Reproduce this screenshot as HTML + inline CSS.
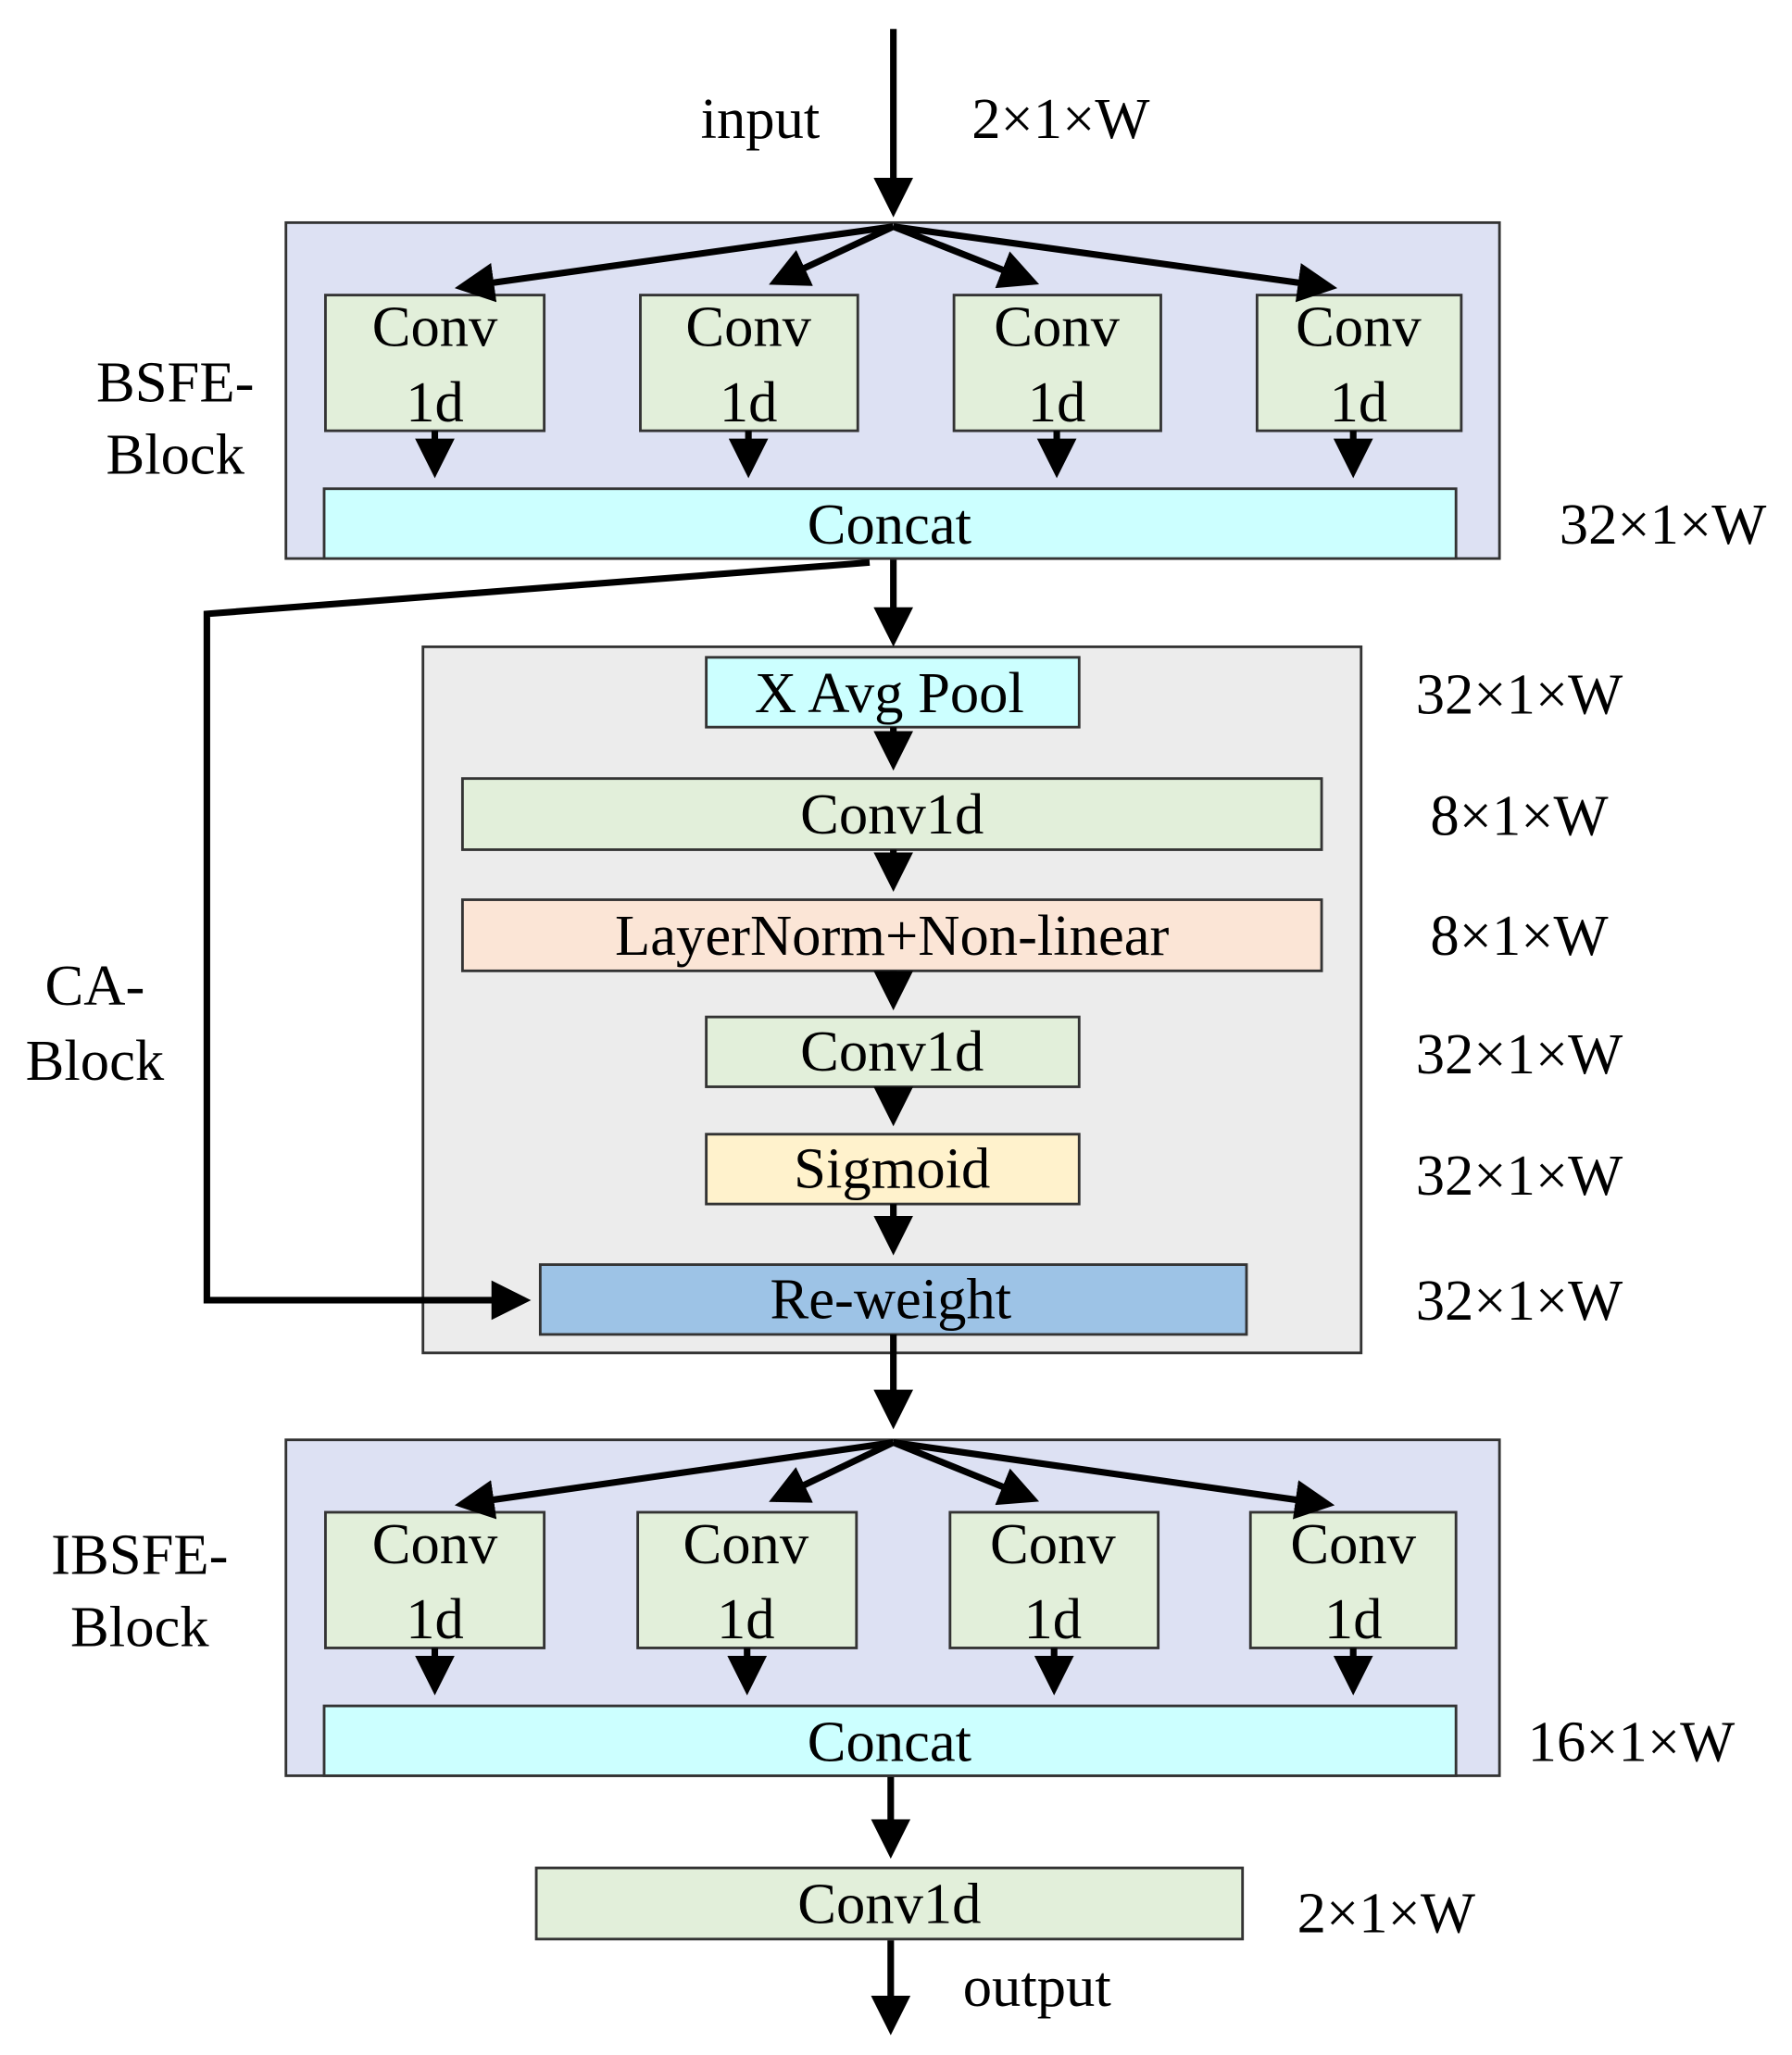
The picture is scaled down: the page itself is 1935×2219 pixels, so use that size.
<!DOCTYPE html>
<html><head><meta charset="utf-8"><style>
html,body{margin:0;padding:0;background:#fff;}
svg{display:block;}
text{font-family:"Liberation Serif",serif;font-size:44px;fill:#000;text-anchor:middle;dominant-baseline:central;}
</style></head><body>
<svg width="1935" height="2219" viewBox="0 0 1360 1560" preserveAspectRatio="none">
<defs>
<marker id="a" markerWidth="6" markerHeight="6" refX="5" refY="3" orient="auto" markerUnits="strokeWidth">
<path d="M0,0 L6,3 L0,6 z" fill="#000"/></marker>
</defs>
<!-- BSFE -->
<rect x="217" y="169" width="921" height="255" fill="#dde1f3" stroke="#333" stroke-width="2"/>
<g fill="#e2efda" stroke="#333" stroke-width="2">
<rect x="247" y="224" width="166" height="103"/>
<rect x="486" y="224" width="165" height="103"/>
<rect x="724" y="224" width="157" height="103"/>
<rect x="954" y="224" width="155" height="103"/>
</g>
<rect x="246" y="371" width="859" height="53" fill="#ccffff" stroke="#333" stroke-width="2"/>
<!-- CA -->
<rect x="321" y="491" width="712" height="536" fill="#ececec" stroke="#333" stroke-width="2"/>
<rect x="536" y="499" width="283" height="53" fill="#ccffff" stroke="#333" stroke-width="2"/>
<rect x="351" y="591" width="652" height="54" fill="#e2efda" stroke="#333" stroke-width="2"/>
<rect x="351" y="683" width="652" height="54" fill="#fbe5d6" stroke="#333" stroke-width="2"/>
<rect x="536" y="772" width="283" height="53" fill="#e2efda" stroke="#333" stroke-width="2"/>
<rect x="536" y="861" width="283" height="53" fill="#fff2cc" stroke="#333" stroke-width="2"/>
<rect x="410" y="960" width="536" height="53" fill="#9dc3e6" stroke="#333" stroke-width="2"/>
<!-- IBSFE -->
<rect x="217" y="1093" width="921" height="255" fill="#dde1f3" stroke="#333" stroke-width="2"/>
<g fill="#e2efda" stroke="#333" stroke-width="2">
<rect x="247" y="1148" width="166" height="103"/>
<rect x="484" y="1148" width="166" height="103"/>
<rect x="721" y="1148" width="158" height="103"/>
<rect x="949" y="1148" width="156" height="103"/>
</g>
<rect x="246" y="1295" width="859" height="53" fill="#ccffff" stroke="#333" stroke-width="2"/>
<rect x="407" y="1418" width="536" height="54" fill="#e2efda" stroke="#333" stroke-width="2"/>
<!-- arrows -->
<g stroke="#000" stroke-width="5" fill="none" marker-end="url(#a)">
<line x1="678" y1="22" x2="678" y2="160"/>
<line x1="678" y1="172" x2="350" y2="218"/>
<line x1="678" y1="172" x2="588" y2="214"/>
<line x1="678" y1="172" x2="784" y2="214"/>
<line x1="678" y1="172" x2="1010" y2="218"/>
<line x1="678" y1="1095" x2="350" y2="1142"/>
<line x1="678" y1="1095" x2="588" y2="1138"/>
<line x1="678" y1="1095" x2="784" y2="1138"/>
<line x1="678" y1="1095" x2="1008" y2="1142"/>
<line x1="330" y1="327" x2="330" y2="358"/>
<line x1="568" y1="327" x2="568" y2="358"/>
<line x1="802" y1="327" x2="802" y2="358"/>
<line x1="1027" y1="327" x2="1027" y2="358"/>
<line x1="330" y1="1251" x2="330" y2="1282"/>
<line x1="567" y1="1251" x2="567" y2="1282"/>
<line x1="800" y1="1251" x2="800" y2="1282"/>
<line x1="1027" y1="1251" x2="1027" y2="1282"/>
<line x1="678" y1="425" x2="678" y2="486"/>
<line x1="678" y1="552" x2="678" y2="580"/>
<line x1="678" y1="645" x2="678" y2="672"/>
<line x1="678" y1="737" x2="678" y2="762"/>
<line x1="678" y1="825" x2="678" y2="850"/>
<line x1="678" y1="914" x2="678" y2="948"/>
<line x1="678" y1="1013" x2="678" y2="1080"/>
<line x1="676" y1="1349" x2="676" y2="1406"/>
<line x1="676" y1="1473" x2="676" y2="1540"/>
<polyline points="660,427 157,466 157,987 398,987"/>
</g>
<!-- texts -->
<text x="577" y="90">input</text>
<text x="805" y="90">2×1×W</text>
<text x="133" y="290">BSFE-</text><text x="133" y="345">Block</text>
<text x="330" y="248">Conv</text><text x="330" y="305">1d</text>
<text x="568" y="248">Conv</text><text x="568" y="305">1d</text>
<text x="802" y="248">Conv</text><text x="802" y="305">1d</text>
<text x="1031" y="248">Conv</text><text x="1031" y="305">1d</text>
<text x="675" y="398">Concat</text>
<text x="1262" y="398">32×1×W</text>
<text x="675" y="526">X Avg Pool</text>
<text x="677" y="618">Conv1d</text>
<text x="677" y="710">LayerNorm+Non-linear</text>
<text x="677" y="798">Conv1d</text>
<text x="677" y="887">Sigmoid</text>
<text x="676" y="986">Re-weight</text>
<text x="1153" y="527">32×1×W</text>
<text x="1153" y="619">8×1×W</text>
<text x="1153" y="710">8×1×W</text>
<text x="1153" y="800">32×1×W</text>
<text x="1153" y="892">32×1×W</text>
<text x="1153" y="987">32×1×W</text>
<text x="72" y="748">CA-</text><text x="72" y="805">Block</text>
<text x="106" y="1180">IBSFE-</text><text x="106" y="1235">Block</text>
<text x="330" y="1172">Conv</text><text x="330" y="1229">1d</text>
<text x="566" y="1172">Conv</text><text x="566" y="1229">1d</text>
<text x="799" y="1172">Conv</text><text x="799" y="1229">1d</text>
<text x="1027" y="1172">Conv</text><text x="1027" y="1229">1d</text>
<text x="675" y="1322">Concat</text>
<text x="1238" y="1322">16×1×W</text>
<text x="675" y="1445">Conv1d</text>
<text x="1052" y="1452">2×1×W</text>
<text x="787" y="1508">output</text>
</svg>
</body></html>
